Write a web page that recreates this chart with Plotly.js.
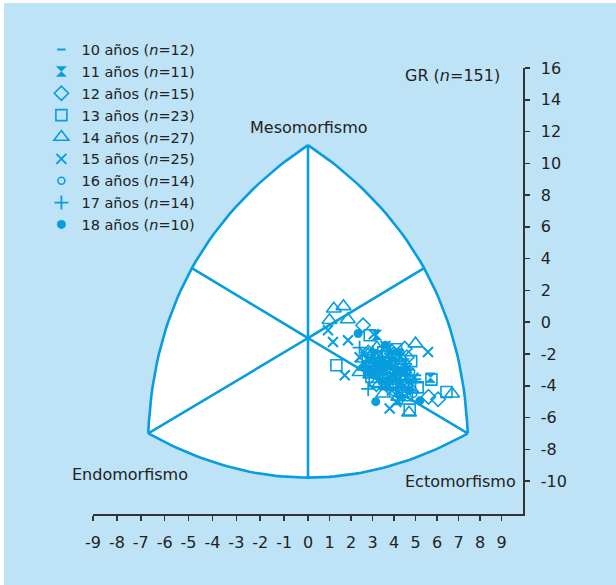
<!DOCTYPE html>
<html>
<head>
<meta charset="utf-8">
<script src="https://cdn.plot.ly/plotly-3.0.1.min.js"></script>
<style>
  html, body { margin: 0; padding: 0; background: #ffffff; }
  #chart { position: absolute; left: 4px; top: 3px; width: 612px; height: 582px; }
</style>
</head>
<body>
<div id="chart"></div>
<script>
// ---- Data (x = ecto - endo, y = 2*meso - (endo + ecto)) ----
const groupNames = [
  '10 años (<i>n</i>=12)', '11 años (<i>n</i>=11)', '12 años (<i>n</i>=15)',
  '13 años (<i>n</i>=23)', '14 años (<i>n</i>=27)', '15 años (<i>n</i>=25)',
  '16 años (<i>n</i>=14)', '17 años (<i>n</i>=14)', '18 años (<i>n</i>=10)'
];
const x10 = [5.07,5.07,3.2,3.6,4.0,3.4,3.8,4.4,2.9,4.2,3.5,4.7];
const y10 = [-3.34,-3.59,-2.5,-2.2,-2.9,-3.0,-3.5,-3.2,-2.3,-4.1,-4.2,-3.7];
const x11 = [5.7,3.2,3.4,3.9,4.1,2.8,3.6,4.5,4.8,3.0,4.2];
const y11 = [-3.5,-0.8,-2.7,-2.1,-3.3,-3.1,-3.9,-2.6,-4.0,-2.0,-4.9];
const x12 = [2.56,4.5,3.18,6.05,5.6,3.49,3.3,3.8,4.2,3.0,4.6,3.6,4.4,2.8,4.0];
const y12 = [-0.19,-1.66,-3.9,-4.85,-4.7,-2.71,-2.3,-2.9,-3.5,-2.6,-2.2,-3.4,-4.3,-1.9,-2.0];
const x13 = [1.32,2.87,4.8,5.74,6.44,4.73,4.37,2.78,2.95,3.2,3.6,4.0,3.4,3.9,4.3,3.1,3.7,4.5,2.9,4.1,3.5,5.1,4.6];
const y13 = [-2.71,-0.82,-2.45,-3.61,-4.39,-5.5,-4.39,-2.4,-3.44,-2.2,-2.5,-2.3,-3.2,-3.1,-2.8,-3.7,-3.9,-3.3,-2.9,-1.7,-1.9,-4.1,-4.6];
const x14 = [1.2,1.65,1.0,1.85,5.0,2.4,3.5,4.7,6.7,3.0,3.4,3.8,4.1,2.9,3.6,4.4,3.2,4.0,4.5,2.7,3.9,4.8,4.3,3.3,4.2,3.7,2.6];
const y14 = [0.85,1.0,0.12,0.17,-1.35,-3.15,-4.5,-5.7,-4.5,-2.0,-2.6,-2.2,-3.0,-3.3,-3.6,-2.4,-1.6,-4.0,-3.6,-2.8,-1.8,-4.2,-3.4,-3.9,-4.7,-3.0,-2.3];
const x15 = [0.93,1.16,1.86,3.06,5.58,1.71,3.80,4.11,4.5,2.8,3.3,3.7,4.2,3.0,3.5,4.0,4.6,2.6,3.9,4.4,3.2,4.9,3.6,4.3,2.4];
const y15 = [-0.5,-1.24,-1.13,-0.76,-1.87,-3.34,-5.43,-5.02,-3.1,-2.4,-2.1,-2.7,-2.0,-3.0,-3.4,-3.4,-2.9,-1.9,-4.3,-4.1,-2.8,-3.5,-1.5,-3.8,-2.2];
const x16 = [4.8,3.3,3.8,4.2,2.9,3.6,4.5,3.1,4.0,3.5,4.9,2.7,4.3,3.7];
const y16 = [-3.1,-2.4,-3.2,-2.6,-2.1,-2.0,-3.9,-3.0,-4.4,-3.7,-4.5,-2.6,-1.9,-4.1];
const x17 = [2.4,2.8,3.1,3.5,3.9,4.3,2.6,3.3,4.1,3.7,4.6,3.0,4.4,5.0];
const y17 = [-1.6,-4.2,-2.3,-2.9,-2.5,-3.3,-3.0,-3.5,-3.9,-1.8,-3.0,-1.9,-4.7,-3.8];
const x18 = [2.33,3.6,2.6,4.7,3.15,5.2,4.3,3.5,3.9,3.0];
const y18 = [-0.71,-1.45,-2.8,-4.3,-5.0,-4.95,-3.1,-2.6,-3.6,-3.2];

const xTicksLeft = [-9,-8,-7,-6,-5,-4,-3,-2,-1,0];
const xTicksRight = [1,2,3,4,5,6,7,8,9];
const yTicks = [-10,-8,-6,-4,-2,0,2,4,6,8,10,12,14,16];

// ---- Somatochart frame (in right-axis units; left half is scaled) ----
const frameApex = [0, 11.15];
const frameCenter = [0, -1];
const frameLeftCorner = [-7.43, -7.0];
const frameRightCorner = [7.43, -7.0];
const frameBottom = [0, -9.78];
const frameLeftBulge = [-5.4, 3.4];
const frameRightBulge = [5.4, 3.4];

const leftRange = [-9, 0];
const rightRange = [0, 10];
const yRange = [-12.07, 16];
const leftScale = (leftRange[1] - leftRange[0]) / (rightRange[1] - rightRange[0]);

const C = '#079ddf';
const BG = '#bee3f6';
const TXT = '#222222';

function bez(P0, M, P2, n, t0, t1) {
  const Cp = [2*M[0] - (P0[0]+P2[0])/2, 2*M[1] - (P0[1]+P2[1])/2];
  const pts = [];
  for (let i = 0; i <= n; i++) {
    const t = t0 + (t1 - t0) * i / n;
    const a = (1-t)*(1-t), b = 2*(1-t)*t, c = t*t;
    pts.push([a*P0[0] + b*Cp[0] + c*P2[0], a*P0[1] + b*Cp[1] + c*P2[1]]);
  }
  return pts;
}
const L = p => p.map(q => [q[0]*leftScale, q[1]]);
function xs(p){ return p.map(q=>q[0]); }
function ys(p){ return p.map(q=>q[1]); }

const leftArc = L(bez(frameApex, frameLeftBulge, frameLeftCorner, 40, 0, 1));
const rightArc = bez(frameApex, frameRightBulge, frameRightCorner, 40, 0, 1);
const bottomLeft = L(bez(frameLeftCorner, frameBottom, frameRightCorner, 30, 0, 0.5));
const bottomRight = bez(frameLeftCorner, frameBottom, frameRightCorner, 30, 0.5, 1);

const leftFill = leftArc.concat(bottomLeft);
const rightFill = rightArc.concat(bottomRight.slice().reverse());

const traces = [];
function frameTrace(p, axis, fill) {
  const t = {x: xs(p), y: ys(p), xaxis: axis, yaxis: 'y', mode: 'lines',
    showlegend: false, hoverinfo: 'skip'};
  if (fill) { t.fill = 'toself'; t.fillcolor = '#ffffff'; t.line = {width: 0, color: 'rgba(0,0,0,0)'}; }
  else { t.line = {color: C, width: 2.6}; }
  return t;
}
traces.push(frameTrace(leftFill, 'x', true));
traces.push(frameTrace(rightFill, 'x2', true));
traces.push(frameTrace(leftArc, 'x'));
traces.push(frameTrace(rightArc, 'x2'));
traces.push(frameTrace(bottomLeft, 'x'));
traces.push(frameTrace(bottomRight, 'x2'));
traces.push(frameTrace(L([frameLeftCorner, frameCenter, frameLeftBulge]), 'x'));
traces.push(frameTrace([frameRightCorner, frameCenter, frameRightBulge], 'x2'));
traces.push(frameTrace([frameApex, frameBottom], 'x'));
traces.push(frameTrace([frameApex, frameBottom], 'x2'));

const groups = [
  [x10, y10, {symbol: 'line-ew-open', size: 6, line: {width: 2, color: C}}],
  [x11, y11, {symbol: 'hourglass', size: 10, color: C, line: {width: 0.5, color: C}}],
  [x12, y12, {symbol: 'diamond-open', size: 11, line: {width: 1.6, color: C}}],
  [x13, y13, {symbol: 'square-open', size: 11, line: {width: 1.6, color: C}}],
  [x14, y14, {symbol: 'triangle-up-open', size: 13, line: {width: 1.6, color: C}}],
  [x15, y15, {symbol: 'x-thin-open', size: 10, line: {width: 2, color: C}}],
  [x16, y16, {symbol: 'circle-open', size: 7, line: {width: 1.6, color: C}}],
  [x17, y17, {symbol: 'cross-thin-open', size: 10, line: {width: 1.8, color: C}}],
  [x18, y18, {symbol: 'circle', size: 9, color: C}]
];
groups.forEach((g, i) => {
  const m = Object.assign({color: C}, g[2]);
  traces.push({x: g[0], y: g[1], xaxis: 'x2', yaxis: 'y', mode: 'markers',
    name: groupNames[i], marker: m, cliponaxis: false});
});

const axFont = {family: 'DejaVu Sans, sans-serif', size: 16, color: TXT};
const axCommon = {showgrid: false, zeroline: false, showline: true, linecolor: '#333333',
  linewidth: 1.6, ticks: 'outside', ticklen: 5, tickwidth: 1.5, tickcolor: '#333333',
  tickfont: axFont, fixedrange: true};

const layout = {
  width: 612, height: 582,
  margin: {l: 89, r: 93, t: 65, b: 71},
  paper_bgcolor: BG, plot_bgcolor: BG,
  font: {family: 'DejaVu Sans, sans-serif', color: TXT},
  showlegend: true,
  legend: {x: -0.12, y: 1.077, xanchor: 'left', yanchor: 'top', bgcolor: 'rgba(0,0,0,0)',
    font: {family: 'DejaVu Sans, sans-serif', size: 14.5, color: TXT}, itemclick: false},
  xaxis: Object.assign({}, axCommon, {domain: [0, 0.5], range: leftRange, tickmode: 'array',
    tickvals: xTicksLeft, ticktext: xTicksLeft.map(String), anchor: 'y', ticklabelstandoff: 8}),
  xaxis2: Object.assign({}, axCommon, {domain: [0.5, 1], range: rightRange, tickmode: 'array',
    tickvals: xTicksRight, ticktext: xTicksRight.map(String), anchor: 'y', ticklabelstandoff: 8}),
  yaxis: Object.assign({}, axCommon, {range: yRange, side: 'right', anchor: 'x2',
    tickmode: 'array', tickvals: yTicks, ticktext: yTicks.map(String), ticklabelstandoff: 8}),
  annotations: [
    {xref: 'x2', yref: 'y', x: 0.05, y: 12.28, text: 'Mesomorfismo', showarrow: false,
      font: {family: 'DejaVu Sans, sans-serif', size: 16, color: TXT}},
    {xref: 'x', yref: 'y', x: -7.45, y: -9.57, text: 'Endomorfismo', showarrow: false,
      font: {family: 'DejaVu Sans, sans-serif', size: 16, color: TXT}},
    {xref: 'x2', yref: 'y', x: 7.09, y: -10.02, text: 'Ectomorfismo', showarrow: false,
      font: {family: 'DejaVu Sans, sans-serif', size: 16, color: TXT}},
    {xref: 'x2', yref: 'y', x: 9.0, y: 15.55, xanchor: 'right', text: 'GR (<i>n</i>=151)',
      showarrow: false, font: {family: 'DejaVu Sans, sans-serif', size: 16, color: TXT}}
  ]
};

Plotly.newPlot('chart', traces, layout, {displayModeBar: false, staticPlot: true});
</script>
</body>
</html>
